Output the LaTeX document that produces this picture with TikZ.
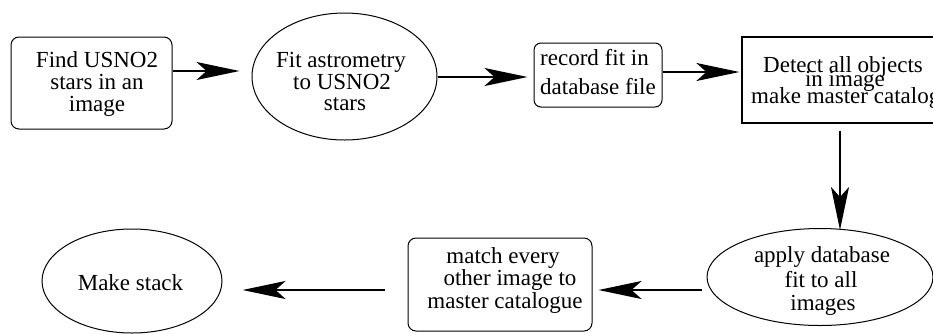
\documentclass[tikz,border=0pt]{standalone}
\usepackage{fontspec}
\setmainfont{Liberation Serif}
\usetikzlibrary{shapes.geometric,arrows.meta}
\begin{document}
\begin{tikzpicture}[x=1pt,y=-1pt,
  box/.style={draw,line width=1pt,rounded corners=8pt,inner sep=0pt},
  sqbox/.style={draw,line width=1.2pt,inner sep=0pt},
  ell/.style={draw,ellipse,line width=1pt,inner sep=0pt},
  txt/.style={anchor=base,inner sep=0pt,font=\fontsize{23}{22}\selectfont},
  arr/.style={line width=2pt,-{Stealth[length=43pt,width=18pt,inset=10pt]}}]
\clip (0,0) rectangle (933,333);
\useasboundingbox (0,0) rectangle (933,333);
% shapes
\node[box,minimum width=161pt,minimum height=92pt] (find) at (91.5,83) {};
\node[ell,minimum width=185pt,minimum height=127pt] (fit) at (344.5,76.5) {};
\node[box,rounded corners=7pt,minimum width=128pt,minimum height=64pt] (rec) at (598,75) {};
\node[sqbox,minimum width=204pt,minimum height=86pt] (det) at (844,80) {};
\node[ell,minimum width=226pt,minimum height=97pt] (app) at (820,277) {};
\node[box,minimum width=184pt,minimum height=93pt] (mat) at (500,284.5) {};
\node[ell,minimum width=180pt,minimum height=104pt] (stk) at (132,281) {};
% texts
\node[txt] (find1) at (97,67) {Find USNO2};
\node[txt] (find2) at (97,89) {stars in an};
\node[txt] (find3) at (97,111) {image};
\node[txt] (fit1) at (341,67) {Fit astrometry};
\node[txt] (fit2) at (342,89) {to USNO2};
\node[txt] (fit3) at (345,110) {stars};
\node[txt,anchor=base west] (rec1) at (540,65) {record fit in};
\node[txt,anchor=base west] (rec2) at (540,94) {database file};
\node[txt] (det1) at (843,72) {Detect all objects};
\node[txt] (det2) at (845,86) {in image};
\node[txt,anchor=base west] (det3) at (751,103) {make master catalogue};
\node[txt] (app1) at (822,262) {apply database};
\node[txt] (app2) at (821,287) {fit to all};
\node[txt] (app3) at (823,310) {images};
\node[txt] (mat1) at (503,263) {match every};
\node[txt] (mat2) at (510,285) {other image to};
\node[txt] (mat3) at (505,308) {master catalogue};
\node[txt] (stk1) at (130.5,290) {Make stack};
% arrows
\draw[arr,shorten >=12pt] (find.east |- 0,71) -- (fit.west |- 0,71);
\draw[arr,shorten >=6pt] (fit.east |- 0,77) -- (rec.west |- 0,77);
\draw[arr,shorten >=2pt] (rec.east |- 0,72) -- (det.west |- 0,72);
\draw[arr,shorten <=7pt,shorten >=-2pt] (det.south -| 840,0) -- (app.north -| 840,0);
\draw[arr,shorten <=5pt,shorten >=6pt] (app.west |- 0,290) -- (mat.east |- 0,290);
\draw[arr,shorten <=23pt,shorten >=20pt] (mat.west |- 0,290) -- (stk.east |- 0,290);
\end{tikzpicture}
\end{document}
